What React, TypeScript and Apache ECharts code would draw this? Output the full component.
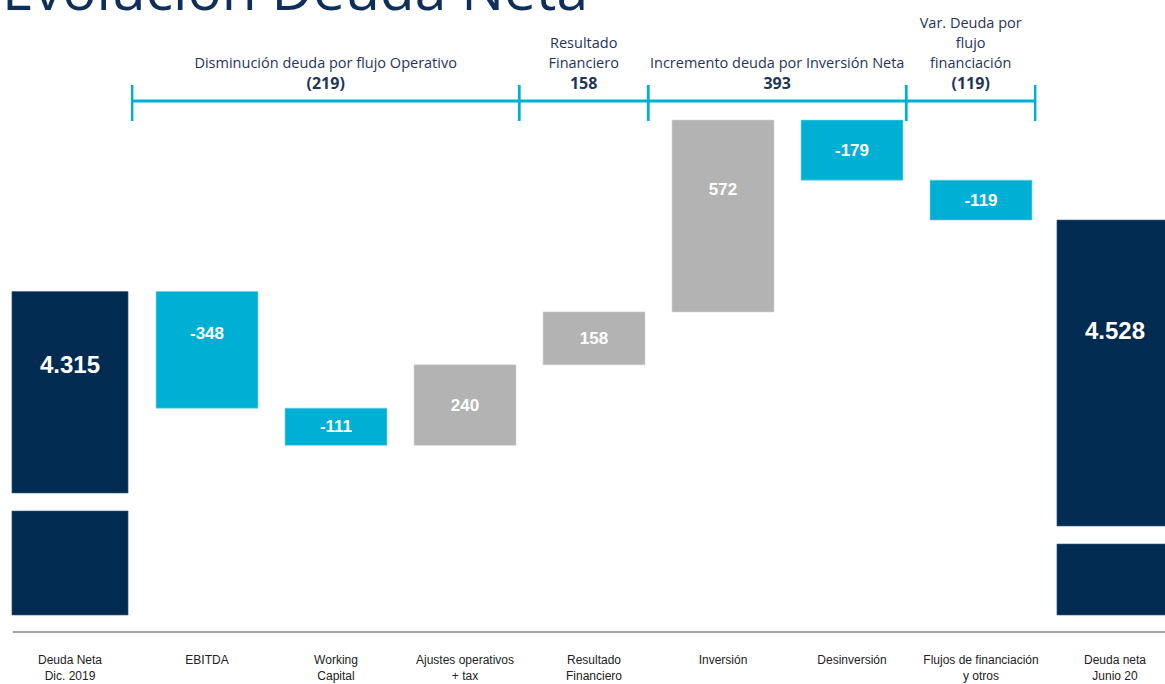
import React, { useEffect, useRef } from 'react';
import * as echarts from 'echarts';

// ---- data ----
const categories = [
  'Deuda Neta\nDic. 2019',
  'EBITDA',
  'Working\nCapital',
  'Ajustes operativos\n+ tax',
  'Resultado\nFinanciero',
  'Inversión',
  'Desinversión',
  'Flujos de financiación\ny otros',
  'Deuda neta\nJunio 20',
];
const changes = [4315, -348, -111, 240, 158, 572, -179, -119, 4528];
const barKinds = ['total', 'decrease', 'decrease', 'increase', 'increase', 'increase', 'decrease', 'decrease', 'total'];
const barLabels = ['4.315', '-348', '-111', '240', '158', '572', '-179', '-119', '4.528'];

const groupNames = [
  'Disminución deuda por flujo Operativo',
  'Resultado\nFinanciero',
  'Incremento deuda por Inversión Neta',
  'Var. Deuda por\nflujo\nfinanciación',
];
const groupValues = ['(219)', '158', '393', '(119)'];
const groupFirst = [1, 4, 5, 7];
const groupLast = [3, 4, 6, 7];

const Y_MIN = 3350;
const Y_MAX = 4883;

// ---- styles ----
const NAVY = '#022b52';
const CYAN = '#00b0d4';
const GRAY = '#b3b3b3';
const TEXT_NAVY = '#1f3559';
const LABEL_FONT = '"Liberation Sans", Arial, sans-serif';

export default function App() {
  const ref = useRef<HTMLDivElement>(null);

  useEffect(() => {
    const chart = echarts.init(ref.current!, null, { renderer: 'svg' });

    let run = 0;
    const barData = changes.map((v, i) => {
      if (barKinds[i] === 'total') {
        run = v;
        return [i, 0, v];
      }
      const from = run;
      run += v;
      return [i, from, run];
    });

    const groupData = groupFirst.map((f, k) => [f, groupLast[k], k, Y_MAX]);

    const option: any = {
      animation: false,
      title: {
        text: 'Evolución Deuda Neta',
        left: -3,
        top: -46,
        textStyle: { fontSize: 57, fontFamily: 'Open Sans', fontWeight: 'normal', color: '#0d2f59' },
      },
      grid: { left: 13.5, width: 1161, top: 101, bottom: 68, containLabel: false },
      xAxis: {
        type: 'category',
        data: categories,
        offset: 17,
        axisTick: { show: false },
        axisLine: { lineStyle: { color: '#a6a6a6', width: 2 } },
        splitLine: { show: false },
        axisLabel: {
          interval: 0,
          margin: 20,
          fontSize: 12,
          lineHeight: 16,
          color: '#222',
          fontFamily: LABEL_FONT,
          formatter: (v: string, i: number) => {
            if (i === 0) return `{l|${v}}`;
            if (i === categories.length - 1) return `{r|${v}}`;
            return v;
          },
          rich: {
            l: { fontSize: 12, lineHeight: 16, color: '#222', fontFamily: LABEL_FONT, padding: [0, 16, 0, 0] },
            r: { fontSize: 12, lineHeight: 16, color: '#222', fontFamily: LABEL_FONT, padding: [0, 0, 0, 10] },
          },
        },
      },
      yAxis: { type: 'value', min: Y_MIN, max: Y_MAX, show: false, splitLine: { show: false } },
      series: [
        {
          type: 'custom',
          clip: false,
          data: barData,
          encode: { x: 0, y: [1, 2] },
          renderItem: (params: any, api: any) => {
            const i = api.value(0);
            const a = api.value(1);
            const b = api.value(2);
            const band = api.size([1, 0])[0];
            const cs = params.coordSys;
            const gridBottom = cs.y + cs.height;
            const kind = barKinds[i];
            const isTotal = kind === 'total';
            const w = band * (isTotal ? 0.9 : 0.79);
            let cx = api.coord([i, b])[0];
            if (isTotal) cx += i === 0 ? -8 : 5;
            const yB = api.coord([i, b])[1];
            const yA = isTotal ? gridBottom : api.coord([i, a])[1];
            const top = Math.min(yA, yB);
            const bot = Math.max(yA, yB);
            const fill = isTotal ? NAVY : kind === 'decrease' ? CYAN : GRAY;
            const stroke = isTotal ? '#3d5f86' : kind === 'decrease' ? '#6fd0e6' : '#d0d0d0';
            const children: any[] = [];
            let segBottom = bot;
            if (isTotal) {
              const low = i === 0 ? 104 : 71;
              const gap = 18;
              segBottom = bot - low - gap;
              children.push({
                type: 'rect',
                shape: { x: cx - w / 2, y: bot - low, width: w, height: low },
                style: { fill, stroke, lineWidth: 0.6 },
              });
            }
            children.push({
              type: 'rect',
              shape: { x: cx - w / 2, y: top, width: w, height: segBottom - top },
              style: { fill, stroke, lineWidth: 0.6 },
            });
            const h = segBottom - top;
            const ly = top + (h > 100 ? 0.36 * h : h / 2);
            children.push({
              type: 'text',
              x: cx,
              y: ly,
              style: {
                text: barLabels[i],
                fill: '#ffffff',
                fontSize: isTotal ? 24 : 17,
                fontWeight: 'bold',
                fontFamily: LABEL_FONT,
                align: 'center',
                verticalAlign: 'middle',
              },
            });
            return { type: 'group', children };
          },
        },
        {
          type: 'custom',
          clip: false,
          data: groupData,
          encode: { x: [0, 1], y: 3 },
          renderItem: (params: any, api: any) => {
            const f = api.value(0);
            const l = api.value(1);
            const k = api.value(2);
            const band = api.size([1, 0])[0];
            const y = api.coord([f, Y_MAX])[1];
            const x0 = api.coord([f, Y_MAX])[0] - band * 0.58;
            const x1 = api.coord([l, Y_MAX])[0] + band * 0.42;
            const lines = groupNames[k].split('\n').map((s) => `{n|${s}}`).join('\n');
            const text = `${lines}\n{v|${groupValues[k]}}`;
            return {
              type: 'group',
              children: [
                { type: 'line', shape: { x1: x0, y1: y, x2: x1, y2: y }, style: { stroke: CYAN, lineWidth: 3 } },
                { type: 'line', shape: { x1: x0, y1: y - 16, x2: x0, y2: y + 20 }, style: { stroke: CYAN, lineWidth: 2.5 } },
                { type: 'line', shape: { x1: x1, y1: y - 16, x2: x1, y2: y + 20 }, style: { stroke: CYAN, lineWidth: 2.5 } },
                {
                  type: 'text',
                  x: (x0 + x1) / 2,
                  y: y - 7,
                  style: {
                    text,
                    align: 'center',
                    verticalAlign: 'bottom',
                    rich: {
                      n: { fontSize: 14.5, lineHeight: 20, fill: TEXT_NAVY, color: TEXT_NAVY, fontFamily: 'Open Sans' },
                      v: { fontSize: 16, lineHeight: 22, fontWeight: 'bold', fill: TEXT_NAVY, color: TEXT_NAVY, fontFamily: 'Open Sans' },
                    },
                  },
                },
              ],
            };
          },
        },
      ],
    };

    chart.setOption(option);
    return () => chart.dispose();
  }, []);

  return (
    <div style={{ position: 'absolute', left: 0, top: 0, width: 1165, height: 684, overflow: 'hidden', background: '#fff' }}>
      <div ref={ref} style={{ width: 1185, height: 684 }} />
    </div>
  );
}
